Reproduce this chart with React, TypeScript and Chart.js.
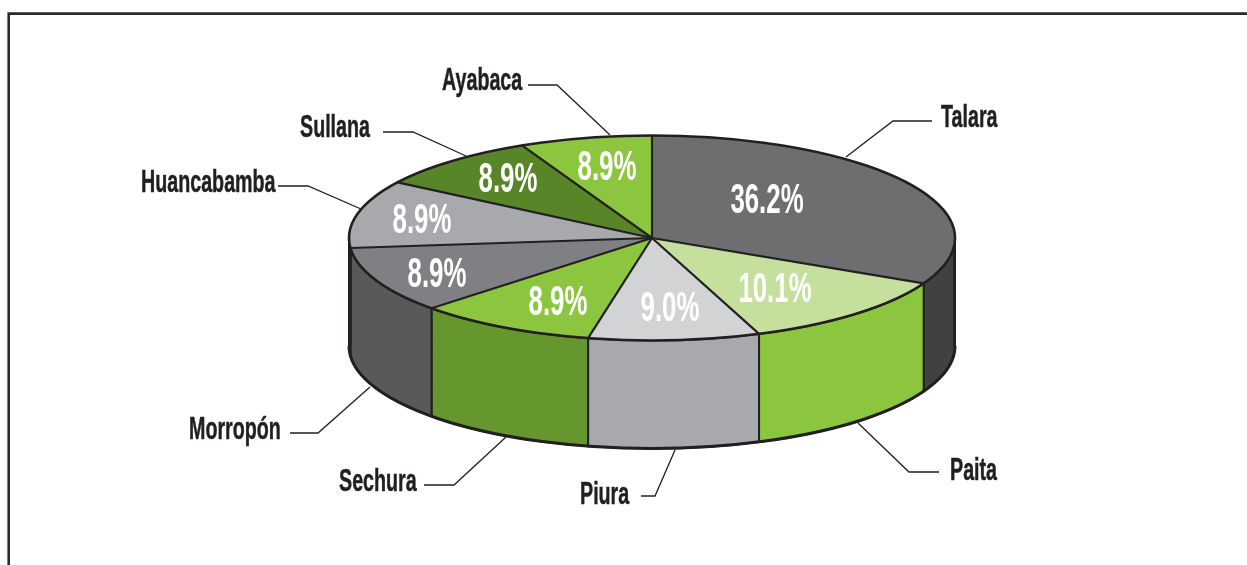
import React, { useEffect, useRef } from "react";
import { Chart, registerables } from "chart.js";

Chart.register(...registerables);

// ---------- data ----------
const provinces = ["Talara", "Paita", "Piura", "Sechura", "Morropón", "Huancabamba", "Sullana", "Ayabaca"];
const shares = [36.2, 10.1, 9.0, 8.9, 8.9, 8.9, 8.9, 8.9];

// ---------- styles ----------
const topColors = ["#6d6e70", "#c5df9c", "#d1d3d4", "#8cc63f", "#7f8083", "#a7a9ac", "#588528", "#8cc63f"];
const sideColors = ["#414141", "#8cc63f", "#a7a9ac", "#66972e", "#58595b", "#58595b", "#58595b", "#58595b"];
const INK = "#231f20";
const FONT = '"Liberation Sans Narrow", "Liberation Sans", sans-serif';

// ---------- geometry of the drawing ----------
const CENTER = { x: 652, y: 238 };
const RX = 303;
const RY = 102.5;
const DEPTH = 108;
// The pie in the picture is drawn in perspective: slice borders sit at these
// angles off the proportional position (degrees, one per border after each slice).
const borderShiftDeg = [-14.3, -7.7, -7.3, -4.9, 0.7, 7.1, 6.7, 0];

// ---------- annotation placement ----------
const nameAnchors: [number, number, CanvasTextAlign][] = [
  [941, 118, "left"], [950, 471, "left"], [580, 495, "left"], [339, 482, "left"],
  [189, 430, "left"], [141, 183, "left"], [300, 128, "left"], [442, 81, "left"],
];
const valueAnchors: [number, number][] = [
  [767, 201], [775, 290], [670, 309], [558, 303], [437, 275], [422, 221], [508, 180], [607, 168],
];
const leaders: [number, number][][] = [
  [[932, 121], [893, 121], [846, 157]],
  [[939, 472], [909, 472], [858, 423]],
  [[641, 496], [655, 496], [675, 450]],
  [[424, 485], [454, 485], [506, 437]],
  [[290, 433], [318, 433], [370, 387]],
  [[278, 186], [308, 186], [361, 209]],
  [[383, 132], [413, 132], [466, 156]],
  [[528, 85], [557, 85], [610, 135]],
];

const TAU = Math.PI * 2;
const shift = (i: number) => (i < 0 ? 0 : (borderShiftDeg[i] * Math.PI) / 180);

function stretchedText(ctx: CanvasRenderingContext2D, text: string, x: number, y: number, sx: number, align: CanvasTextAlign, bolden: number) {
  ctx.save();
  ctx.translate(x, y);
  ctx.scale(sx, 1);
  ctx.textAlign = align;
  ctx.textBaseline = "middle";
  ctx.fillText(text, 0, 0);
  if (bolden > 0) {
    ctx.lineWidth = bolden;
    ctx.strokeText(text, 0, 0);
  }
  ctx.restore();
}

const pie3d = {
  id: "pie3d",
  afterDatasetsUpdate(chart: any) {
    chart.getDatasetMeta(0).data.forEach((arc: any, i: number) => {
      const start = arc.startAngle + shift(i - 1);
      const end = arc.endAngle + shift(i);
      arc.startAngle = start;
      arc.endAngle = end;
      arc.circumference = end - start;
    });
  },
  beforeDraw(chart: any) {
    const { ctx } = chart;
    ctx.save();
    ctx.fillStyle = "#ffffff";
    ctx.fillRect(0, 0, chart.width, chart.height);
    ctx.strokeStyle = "#2b2a2b";
    ctx.lineWidth = 2.6;
    ctx.beginPath();
    ctx.moveTo(8.7, chart.height);
    ctx.lineTo(8.7, 13.6);
    ctx.lineTo(chart.width, 13.6);
    ctx.stroke();
    ctx.restore();
  },
  beforeDatasetsDraw(chart: any) {
    const { ctx } = chart;
    const arcs = chart.getDatasetMeta(0).data;
    const { x: cx, y: cy } = CENTER;
    // Rim: only the part of each slice on the near half of the ellipse shows.
    ctx.save();
    ctx.lineJoin = "round";
    arcs.forEach((arc: any, i: number) => {
      const a = Math.max(arc.startAngle, 0);
      const b = Math.min(arc.endAngle, Math.PI);
      if (b <= a) return;
      ctx.beginPath();
      ctx.ellipse(cx, cy, RX, RY, 0, a, b);
      ctx.ellipse(cx, cy + DEPTH, RX, RY, 0, b, a, true);
      ctx.closePath();
      ctx.fillStyle = sideColors[i];
      ctx.fill();
      ctx.strokeStyle = INK;
      ctx.lineWidth = 2;
      ctx.stroke();
    });
    ctx.lineWidth = 3;
    ctx.beginPath();
    ctx.ellipse(cx, cy + DEPTH, RX, RY, 0, 0, Math.PI);
    ctx.stroke();
    ctx.beginPath();
    ctx.moveTo(cx - RX + 1, cy);
    ctx.lineTo(cx - RX + 1, cy + DEPTH);
    ctx.moveTo(cx + RX - 0.5, cy);
    ctx.lineTo(cx + RX - 0.5, cy + DEPTH);
    ctx.stroke();
    ctx.restore();

    // Squash the library's circular arcs into the top ellipse.
    const first = arcs[0];
    ctx.save();
    ctx.translate(cx, cy);
    ctx.scale(RX / first.outerRadius, RY / first.outerRadius);
    ctx.translate(-first.x, -first.y);
  },
  afterDatasetsDraw(chart: any) {
    const { ctx } = chart;
    ctx.restore();
    const arcs = chart.getDatasetMeta(0).data;
    const { x: cx, y: cy } = CENTER;
    ctx.save();
    ctx.strokeStyle = INK;
    ctx.lineJoin = "miter";
    ctx.lineWidth = 2.2;
    arcs.forEach((arc: any) => {
      ctx.beginPath();
      ctx.moveTo(cx, cy);
      ctx.lineTo(cx + RX * Math.cos(arc.startAngle), cy + RY * Math.sin(arc.startAngle));
      ctx.stroke();
    });
    ctx.lineWidth = 2.6;
    ctx.beginPath();
    ctx.ellipse(cx, cy, RX, RY, 0, 0, TAU);
    ctx.stroke();
    ctx.restore();
  },
  afterDraw(chart: any) {
    const { ctx } = chart;
    ctx.save();
    ctx.strokeStyle = INK;
    ctx.lineWidth = 1.3;
    leaders.forEach((pts) => {
      ctx.beginPath();
      pts.forEach(([x, y], k) => (k ? ctx.lineTo(x, y) : ctx.moveTo(x, y)));
      ctx.stroke();
    });
    ctx.fillStyle = INK;
    ctx.font = `bold 31px ${FONT}`;
    provinces.forEach((name, i) => {
      const [x, y, align] = nameAnchors[i];
      stretchedText(ctx, name, x, y, 0.635, align, 0.5);
    });
    ctx.fillStyle = "#ffffff";
    ctx.strokeStyle = "#ffffff";
    ctx.font = `bold 42px ${FONT}`;
    shares.forEach((v, i) => {
      const [x, y] = valueAnchors[i];
      stretchedText(ctx, `${v.toFixed(1)}%`, x, y, 0.615, "center", 0);
    });
    ctx.restore();
  },
};

export default function App() {
  const ref = useRef<HTMLCanvasElement>(null);
  useEffect(() => {
    const chart = new Chart(ref.current as HTMLCanvasElement, {
      type: "pie",
      data: {
        labels: provinces,
        datasets: [{ data: shares, backgroundColor: topColors, borderWidth: 0, clip: false } as any],
      },
      options: {
        animation: false,
        responsive: false,
        radius: RX,
        plugins: { legend: { display: false }, tooltip: { enabled: false } },
      } as any,
      plugins: [pie3d],
    });
    return () => chart.destroy();
  }, []);
  return (
    <div style={{ position: "absolute", left: 0, top: 0, width: 1247, height: 565, overflow: "hidden", background: "#fff" }}>
      <canvas ref={ref} width={1247} height={565} style={{ display: "block" }} />
    </div>
  );
}
